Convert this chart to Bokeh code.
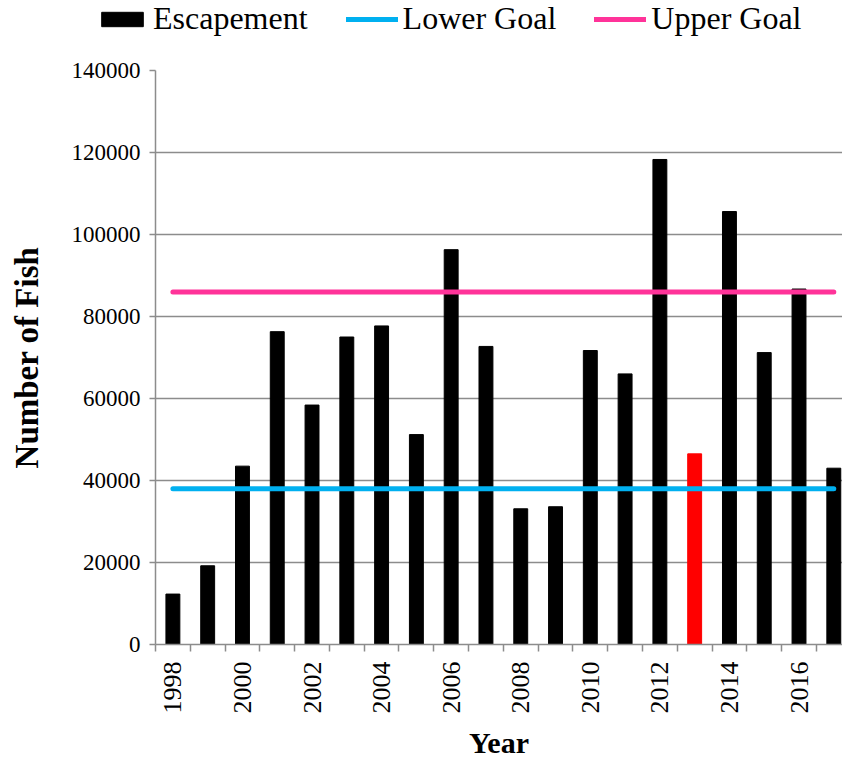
import math
from bokeh.plotting import figure
from bokeh.models import (Range1d, FixedTicker, Legend, LegendItem, ColumnDataSource)
from bokeh.embed import file_html
from bokeh.resources import INLINE

# ---- data ----
years = [1998, 1999, 2000, 2001, 2002, 2003, 2004, 2005, 2006, 2007,
         2008, 2009, 2010, 2011, 2012, 2013, 2014, 2015, 2016, 2017]
escapement = [12300, 19200, 43500, 76300, 58400, 75000, 77700, 51200, 96300, 72700,
              33100, 33600, 71700, 66000, 118300, 46500, 105600, 71200, 86700, 43000]
bar_colors = ["black"] * 15 + ["#FF0000"] + ["black"] * 4
lower_goal = 38000
upper_goal = 86000
y_ticks = [0, 20000, 40000, 60000, 80000, 100000, 120000, 140000]
x_tick_years = [1998, 2000, 2002, 2004, 2006, 2008, 2010, 2012, 2014, 2016]
series_names = ["Escapement", "Lower Goal", "Upper Goal"]

FONT = "Liberation Serif"
GRAY = "#8C8C8C"
BLUE = "#00B0F0"
PINK = "#FF3399"

# ---------------- main chart ----------------
p = figure(width=842, height=711, output_backend="svg", toolbar_location=None,
           x_range=Range1d(1997.5, 2017.25), y_range=Range1d(0, 140000),
           min_border_left=155, min_border_right=0, min_border_top=20,
           min_border_bottom=116)
p.outline_line_color = None
p.background_fill_color = "white"
p.border_fill_color = "white"

src = ColumnDataSource(dict(x=years, top=escapement, color=bar_colors))
bars = p.vbar(x="x", top="top", width=0.4, bottom=0, source=src,
              fill_color="color", line_color="color")

lo = p.line(x=[years[0], years[-1]], y=[lower_goal, lower_goal],
            line_color=BLUE, line_width=5, line_cap="round")
up = p.line(x=[years[0], years[-1]], y=[upper_goal, upper_goal],
            line_color=PINK, line_width=5, line_cap="round")

p.xgrid.grid_line_color = None
p.ygrid.grid_line_color = GRAY
p.ygrid.grid_line_width = 1.5
p.ygrid.ticker = FixedTicker(ticks=y_ticks)

ya = p.yaxis[0]
ya.ticker = FixedTicker(ticks=y_ticks)
ya.axis_line_color = GRAY
ya.axis_line_width = 1.5
ya.major_tick_line_color = GRAY
ya.major_tick_line_width = 1.5
ya.major_tick_in = 0
ya.major_tick_out = 6
ya.minor_tick_line_color = None
ya.major_label_text_font = FONT
ya.major_label_text_font_size = "23px"
ya.major_label_text_color = "black"
ya.major_label_standoff = 9
ya.axis_label = "Number of Fish"
ya.axis_label_text_font = FONT
ya.axis_label_text_font_size = "33px"
ya.axis_label_text_font_style = "bold"
ya.axis_label_text_color = "black"
ya.axis_label_standoff = 24
ya.formatter.use_scientific = False

xa = p.xaxis[0]
minor = [y - 0.5 for y in years] + [years[-1] + 0.5]
xa.ticker = FixedTicker(ticks=x_tick_years, minor_ticks=minor)
xa.axis_line_color = GRAY
xa.axis_line_width = 1.5
xa.major_tick_line_color = None
xa.major_tick_in = 0
xa.major_tick_out = 0
xa.minor_tick_line_color = GRAY
xa.minor_tick_line_width = 1.5
xa.minor_tick_in = 0
xa.minor_tick_out = 7
xa.major_label_orientation = math.pi / 2
xa.major_label_text_font = FONT
xa.major_label_text_font_size = "26px"
xa.major_label_text_color = "black"
xa.major_label_standoff = 10
xa.axis_label = "Year"
xa.axis_label_text_font = FONT
xa.axis_label_text_font_size = "30px"
xa.axis_label_text_font_style = "bold"
xa.axis_label_text_color = "black"
xa.axis_label_standoff = 9

# ---------------- legend strip (separate root) ----------------
lf = figure(width=842, height=50, output_backend="svg", toolbar_location=None,
            x_range=Range1d(0, 1), y_range=Range1d(0, 1),
            min_border_left=0, min_border_right=0, min_border_top=0,
            min_border_bottom=0, x_axis_type=None, y_axis_type=None)
lf.outline_line_color = None
lf.grid.grid_line_color = None
lf.background_fill_color = "white"
lf.border_fill_color = "white"

# legend-only renderers, placed outside the visible range
lb = lf.vbar(x=[-10], top=[-5], bottom=[-6], width=0.4,
             fill_color="black", line_color="black")
ll = lf.line(x=[-10, -9], y=[-10, -10], line_color=BLUE, line_width=5, line_cap="round")
lu = lf.line(x=[-10, -9], y=[-10, -10], line_color=PINK, line_width=5, line_cap="round")

legend = Legend(items=[
    LegendItem(label=series_names[0], renderers=[lb]),
    LegendItem(label=series_names[1], renderers=[ll]),
    LegendItem(label=series_names[2], renderers=[lu]),
], orientation="horizontal", location=(96, 13))
legend.border_line_color = None
legend.background_fill_alpha = 0
legend.padding = 0
legend.margin = 0
legend.spacing = 38
legend.glyph_width = 52
legend.glyph_height = 18
legend.label_standoff = 5
legend.label_text_font = FONT
legend.label_text_font_size = "32px"
legend.label_text_color = "black"
legend.label_text_baseline = "middle"
lf.add_layout(legend, "center")

open("out.html", "w").write(file_html([lf, p], INLINE))
